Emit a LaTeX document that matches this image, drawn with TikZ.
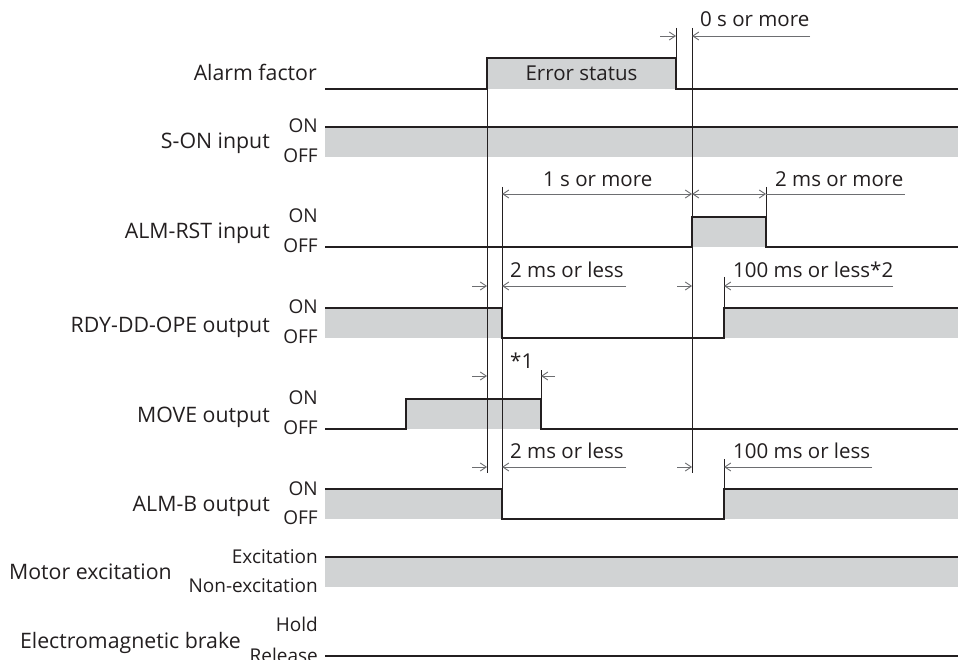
\documentclass[tikz,border=0pt]{standalone}
\usepackage{fontspec}
\setmainfont{Open Sans}
\usetikzlibrary{arrows.meta}
\definecolor{gfill}{HTML}{D1D3D4}
\definecolor{ink}{HTML}{231F20}
\definecolor{dimc}{HTML}{6D6E71}
\begin{document}
\begin{tikzpicture}[x=1pt,y=-1pt,
  sig/.style={draw=ink,line width=1.5pt,line join=miter},
  gbox/.style={fill=gfill,draw=none},
  vline/.style={draw=ink,line width=0.9pt},
  dimline/.style={draw=dimc,line width=0.9pt},
  tip/.style={-{Straight Barb[length=6pt,width=8pt,line width=0.9pt]}},
  tips/.style={{Straight Barb[length=6pt,width=8pt,line width=0.9pt]}-{Straight Barb[length=6pt,width=8pt,line width=0.9pt]}},
  lbl/.style={anchor=base east,inner sep=0pt,text=ink,font=\fontsize{21.3}{24}\selectfont},
  stl/.style={anchor=base east,inner sep=0pt,text=ink,font=\fontsize{19}{21}\selectfont},
  tmt/.style={anchor=base west,inner sep=0pt,text=ink,font=\fontsize{20.5}{24}\selectfont}]
\useasboundingbox (0,0) rectangle (958,660);
\fill[white] (0,0) rectangle (958,660);

% ---------- gray fills ----------
\fill[gbox] (487,58) rectangle (676,89);
\fill[gbox] (325,127) rectangle (958,157);
\fill[gbox] (692,217) rectangle (766,247);
\fill[gbox] (325,308) rectangle (502,338);
\fill[gbox] (724,308) rectangle (958,338);
\fill[gbox] (406,399) rectangle (541,429);
\fill[gbox] (325,489) rectangle (502,519);
\fill[gbox] (724,489) rectangle (958,519);
\fill[gbox] (325,557) rectangle (958,587);

% ---------- reference vertical lines ----------
\draw[vline] (487,58) -- (487,473);
\draw[vline] (692,28) -- (692,473);
\draw[vline] (676,28) -- (676,58);
\draw[vline] (502,187) -- (502,489);
\draw[vline] (766,187) -- (766,217);
\draw[vline] (724,277) -- (724,308);
\draw[vline] (724,459) -- (724,489);
\draw[vline] (541,370) -- (541,399);

% ---------- signals ----------
\draw[sig] (325,89) -- (487,89) -- (487,58) -- (676,58) -- (676,89) -- (958,89);
\draw[sig] (325,127) -- (958,127);
\draw[sig] (325,247) -- (692,247) -- (692,217) -- (766,217) -- (766,247) -- (958,247);
\draw[sig] (325,308) -- (502,308) -- (502,338) -- (724,338) -- (724,308) -- (958,308);
\draw[sig] (325,429) -- (406,429) -- (406,399) -- (541,399) -- (541,429) -- (958,429);
\draw[sig] (325,489) -- (502,489) -- (502,519) -- (724,519) -- (724,489) -- (958,489);
\draw[sig] (325,557) -- (958,557);
\draw[sig] (325,656) -- (958,656);

% ---------- dimension arrows ----------
\draw[dimline,tip] (660,36) -- (676,36);
\draw[dimline,tip] (810,36) -- (692,36);
\draw[dimline,tips] (502,194) -- (692,194);
\draw[dimline,tips] (692,194) -- (766,194);
\draw[dimline] (766,194) -- (905,194);
\draw[dimline,tip] (472,286) -- (487,286);
\draw[dimline,tip] (626,286) -- (502,286);
\draw[dimline,tip] (677,286) -- (692,286);
\draw[dimline,tip] (893,286) -- (724,286);
\draw[dimline,tip] (472,376) -- (487,376);
\draw[dimline,tip] (555,376) -- (541,376);
\draw[dimline,tip] (472,467) -- (487,467);
\draw[dimline,tip] (626,467) -- (502,467);
\draw[dimline,tip] (677,467) -- (692,467);
\draw[dimline,tip] (872,467) -- (724,467);

% ---------- timing texts ----------
\node[tmt] (t0) at (700,27) {0 s or more};
\node[tmt] (t1) at (543,187) {1 s or more};
\node[tmt] (t2) at (775,187) {2 ms or more};
\node[tmt] (t3) at (510,277) {2 ms or less};
\node[tmt] (t4) at (733,277) {100 ms or less*2};
\node[tmt] (t5) at (510,368) {*1};
\node[tmt] (t6) at (510,458) {2 ms or less};
\node[tmt] (t7) at (733,458) {100 ms or less};
\node[anchor=base,inner sep=0pt,text=ink,font=\fontsize{20.5}{24}\selectfont] (err) at (581.5,81) {Error status};

% ---------- signal names ----------
\node[lbl] (nA) at (317,81) {Alarm factor};
\node[lbl] (nS) at (270,149) {S-ON input};
\node[lbl] (nR) at (270,239) {ALM-RST input};
\node[lbl] (nD) at (270,332) {RDY-DD-OPE output};
\node[lbl] (nM) at (270,422) {MOVE output};
\node[lbl] (nB) at (270,511) {ALM-B output};
\node[lbl] (nX) at (172,579) {Motor excitation};
\node[lbl] (nE) at (241,648) {Electromagnetic brake};

% ---------- state labels ----------
\node[stl] (s1a) at (318,133) {ON};
\node[stl] (s1b) at (318,163) {OFF};
\node[stl] (s2a) at (318,223) {ON};
\node[stl] (s2b) at (318,253) {OFF};
\node[stl] (s3a) at (318,313) {ON};
\node[stl] (s3b) at (318,343) {OFF};
\node[stl] (s4a) at (318,404) {ON};
\node[stl] (s4b) at (318,434) {OFF};
\node[stl] (s5a) at (318,495) {ON};
\node[stl] (s5b) at (318,524) {OFF};
\node[stl] (s6a) at (318,563) {Excitation};
\node[stl] (s6b) at (318,592) {Non-excitation};
\node[stl] (s7a) at (318,631) {Hold};
\node[stl] (s7b) at (318,662) {Release};
\end{tikzpicture}
\end{document}
